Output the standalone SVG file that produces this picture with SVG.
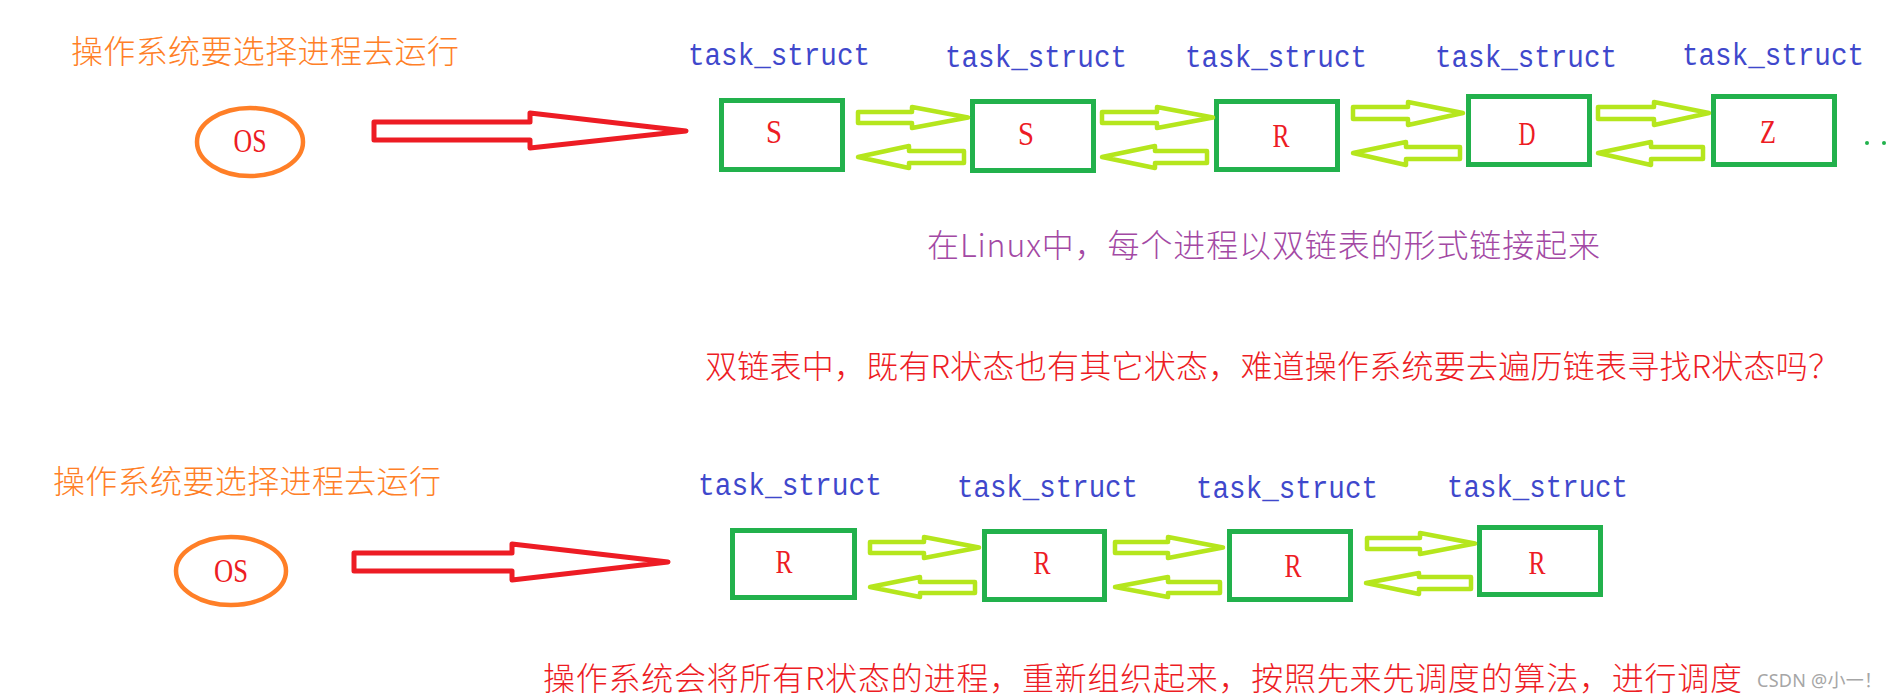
<svg xmlns="http://www.w3.org/2000/svg" width="1896" height="698" viewBox="0 0 1896 698">
<style>
.cn{font-family:"Noto Sans CJK SC","Noto Sans",sans-serif;font-size:32px;font-weight:300}
.org{fill:#ff7f27}
.red{fill:#ed1c24}
.pur{fill:#a349a4}
.ts{font-family:"Liberation Mono",monospace;font-size:31px;fill:#3f48cc}
.lt{font-family:"Liberation Serif",serif;font-size:33px;fill:#ed1c24;text-anchor:middle}
.box{fill:none;stroke:#22b14c;stroke-width:5}
.os{fill:none;stroke:#ff7f27;stroke-width:4.5}
.ra{fill:none;stroke:#ed1c24;stroke-width:5;stroke-linejoin:round}
.ga{fill:none;stroke:#b5e61d;stroke-width:4.5;stroke-linejoin:round}
.wm{font-family:"Noto Sans","Noto Sans CJK SC",sans-serif;font-size:18px;fill:#a6a6a6}
</style>
<rect width="1896" height="698" fill="#ffffff"/>

<g id="top-title"><text class="cn org" x="71" y="63" textLength="388" lengthAdjust="spacing">操作系统要选择进程去运行</text></g>
<g id="top-os">
<ellipse class="os" cx="250" cy="142" rx="53" ry="34"/>
<text class="lt" x="250" y="152" textLength="33" lengthAdjust="spacingAndGlyphs">OS</text>
</g>

<g id="top-t1"><text class="ts" x="688" y="65" textLength="182" lengthAdjust="spacingAndGlyphs">task_struct</text>
<rect class="box" x="721.5" y="100.5" width="121" height="69"/><text class="lt" x="774" y="143" textLength="16" lengthAdjust="spacingAndGlyphs">S</text></g>
<g id="top-t2"><text class="ts" x="945" y="67" textLength="182" lengthAdjust="spacingAndGlyphs">task_struct</text>
<rect class="box" x="972.5" y="101.5" width="121" height="69"/><text class="lt" x="1026" y="145" textLength="16" lengthAdjust="spacingAndGlyphs">S</text></g>
<g id="top-t3"><text class="ts" x="1185" y="67" textLength="182" lengthAdjust="spacingAndGlyphs">task_struct</text>
<rect class="box" x="1216.5" y="101.5" width="121" height="68"/><text class="lt" x="1281" y="147" textLength="17" lengthAdjust="spacingAndGlyphs">R</text></g>
<g id="top-t4"><text class="ts" x="1435" y="67" textLength="182" lengthAdjust="spacingAndGlyphs">task_struct</text>
<rect class="box" x="1468.5" y="96.5" width="121" height="68"/><text class="lt" x="1527" y="145" textLength="17" lengthAdjust="spacingAndGlyphs">D</text></g>
<g id="top-t5"><text class="ts" x="1682" y="65" textLength="182" lengthAdjust="spacingAndGlyphs">task_struct</text>
<rect class="box" x="1713.5" y="96.5" width="121" height="68"/><text class="lt" x="1768" y="143" textLength="16" lengthAdjust="spacingAndGlyphs">Z</text></g>
<g id="top-more" fill="#22b14c"><circle cx="1867" cy="143" r="2"/><circle cx="1884" cy="143" r="2"/></g>

<g id="note-linux"><text class="cn pur" x="927" y="257" textLength="673" lengthAdjust="spacing">在Linux中，每个进程以双链表的形式链接起来</text></g>
<g id="note-question"><text class="cn red" x="705" y="378" textLength="1135" lengthAdjust="spacing">双链表中，既有R状态也有其它状态，难道操作系统要去遍历链表寻找R状态吗？</text></g>

<g id="bot-title"><text class="cn org" x="53" y="493" textLength="388" lengthAdjust="spacing">操作系统要选择进程去运行</text></g>
<g id="bot-os">
<ellipse class="os" cx="231" cy="571" rx="55" ry="34"/>
<text class="lt" x="231" y="582" textLength="34" lengthAdjust="spacingAndGlyphs">OS</text>
</g>

<g id="bot-t1"><text class="ts" x="698" y="495" textLength="184" lengthAdjust="spacingAndGlyphs">task_struct</text>
<rect class="box" x="732.5" y="530.5" width="122" height="67"/><text class="lt" x="784" y="573" textLength="17" lengthAdjust="spacingAndGlyphs">R</text></g>
<g id="bot-t2"><text class="ts" x="957" y="497" textLength="181" lengthAdjust="spacingAndGlyphs">task_struct</text>
<rect class="box" x="984.5" y="531.5" width="120" height="68"/><text class="lt" x="1042" y="574" textLength="17" lengthAdjust="spacingAndGlyphs">R</text></g>
<g id="bot-t3"><text class="ts" x="1196" y="498" textLength="182" lengthAdjust="spacingAndGlyphs">task_struct</text>
<rect class="box" x="1229.5" y="531.5" width="121" height="68"/><text class="lt" x="1293" y="577" textLength="17" lengthAdjust="spacingAndGlyphs">R</text></g>
<g id="bot-t4"><text class="ts" x="1447" y="497" textLength="181" lengthAdjust="spacingAndGlyphs">task_struct</text>
<rect class="box" x="1479.5" y="527.5" width="121" height="67"/><text class="lt" x="1537" y="574" textLength="17" lengthAdjust="spacingAndGlyphs">R</text></g>

<g id="note-schedule"><text class="cn red" x="543" y="690" textLength="1199" lengthAdjust="spacing">操作系统会将所有R状态的进程，重新组织起来，按照先来先调度的算法，进行调度</text></g>
<g id="watermark"><text class="wm" x="1757" y="687" textLength="125" lengthAdjust="spacing">CSDN @小一！</text></g>

<g id="connectors">
<polygon class="ra" points="374,122 530,122 530,113 686,131 530,148 530,140 374,140"/>
<polygon class="ra" points="354,553 512,553 512,544 668,562 512,580 512,571 354,571"/>

<polygon class="ga" points="858,112 912,112 912,107 968,117.5 912,128 912,123 858,123"/>
<polygon class="ga" points="964,151 909,151 909,146 858,157 909,168 909,163 964,163"/>
<polygon class="ga" points="1102,112 1157,112 1157,107 1213,117.5 1157,128 1157,123 1102,123"/>
<polygon class="ga" points="1207,151 1155,151 1155,146 1102,157 1155,168 1155,163 1207,163"/>
<polygon class="ga" points="1353,107 1408,107 1408,102 1463,113 1408,125 1408,119 1353,119"/>
<polygon class="ga" points="1460,147 1406,147 1406,142 1353,153 1406,165 1406,159 1460,159"/>
<polygon class="ga" points="1598,107 1654,107 1654,102 1709,113 1654,125 1654,119 1598,119"/>
<polygon class="ga" points="1703,147 1651,147 1651,142 1598,153 1651,165 1651,159 1703,159"/>

<polygon class="ga" points="870,542 924,542 924,537 979,547.5 924,558 924,553 870,553"/>
<polygon class="ga" points="975,582 920,582 920,577 870,587 920,597 920,593 975,593"/>
<polygon class="ga" points="1115,542 1168,542 1168,537 1223,547.5 1168,558 1168,553 1115,553"/>
<polygon class="ga" points="1220,582 1168,582 1168,577 1115,587 1168,597 1168,593 1220,593"/>
<polygon class="ga" points="1367,538 1420,538 1420,533 1475,543.5 1420,554 1420,549 1367,549"/>
<polygon class="ga" points="1471,577 1419,577 1419,573 1366,583 1419,594 1419,589 1471,589"/>
</g>
</svg>
